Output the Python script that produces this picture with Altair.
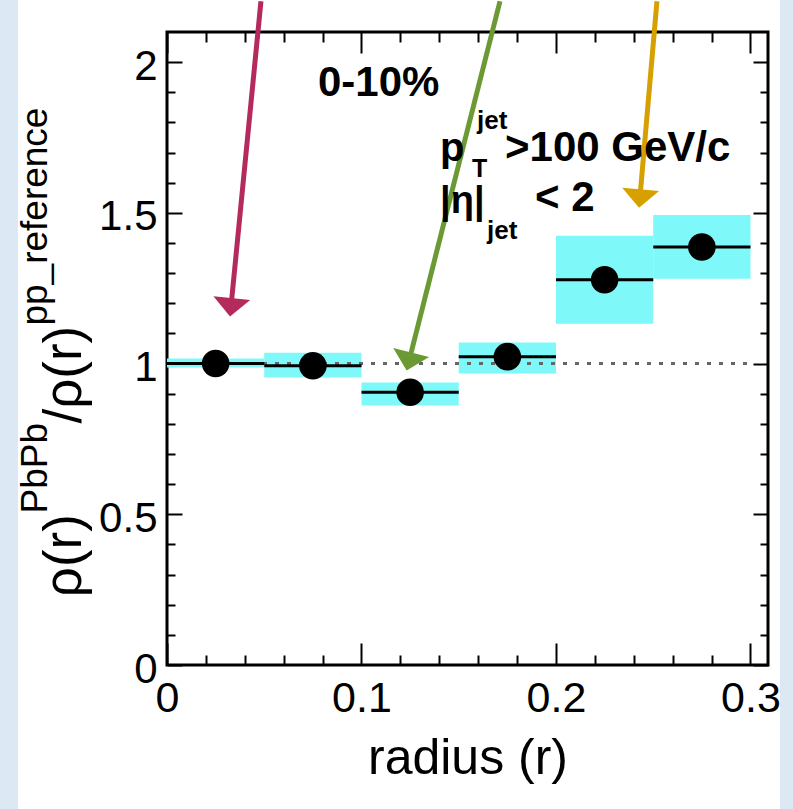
import math
import altair as alt
import pandas as pd

# Jet shape ratio PbPb / pp reference, 0-10% centrality, six radial bins
bin_lo = [0.00, 0.05, 0.10, 0.15, 0.20, 0.25]
bin_hi = [0.05, 0.10, 0.15, 0.20, 0.25, 0.30]
ratio = [1.000, 0.993, 0.905, 1.023, 1.278, 1.387]
sys_lo = [0.987, 0.954, 0.861, 0.967, 1.132, 1.281]
sys_hi = [1.017, 1.036, 0.937, 1.070, 1.424, 1.493]

# axis ticks
x_major = [0.0, 0.1, 0.2, 0.3]
x_minor = [0.02, 0.04, 0.06, 0.08, 0.12, 0.14, 0.16, 0.18, 0.22, 0.24, 0.26, 0.28]
y_major = [0.0, 0.5, 1.0, 1.5, 2.0]
y_minor = [0.1, 0.2, 0.3, 0.4, 0.6, 0.7, 0.8, 0.9, 1.1, 1.2, 1.3, 1.4, 1.6, 1.7, 1.8, 1.9]

# highlight arrows (start above the frame, tip in data units)
arrow_color = ["#b52a5d", "#6b9a34", "#d6a100"]
arrow_x0 = [0.0483, 0.1712, 0.2519]
arrow_y0 = [2.202, 2.202, 2.202]
arrow_x1 = [0.0324, 0.1232, 0.2427]
arrow_y1 = [1.156, 0.977, 1.517]

# in-plot labels
note_text = ["0-10%", "p", "T", "jet", ">100 GeV/c", "|η|", "jet", "< 2"]
note_x = [0.0776, 0.1404, 0.1568, 0.1594, 0.1738, 0.1404, 0.1645, 0.1892]
note_y = [1.887, 1.672, 1.620, 1.778, 1.672, 1.500, 1.414, 1.507]
note_size = [42, 40, 25, 26, 42, 38, 26, 42]

# y-axis title pieces, written bottom to top
ytitle_text = ["ρ(r)", "PbPb", "/ρ(r)", "pp_reference"]
ytitle_x = [-0.0442, -0.0617, -0.0442, -0.0617]
ytitle_y = [0.225, 0.503, 0.801, 1.126]
ytitle_size = [53, 37, 53, 37]

X_MAX = 0.309
Y_MAX = 2.1
W, H = 601, 633
PX_X = W / X_MAX
PX_Y = H / Y_MAX
FONT = "Liberation Sans"
CYAN = "#7ef8f8"

xs = alt.Scale(domain=[0, X_MAX], nice=False, zero=False)
ys = alt.Scale(domain=[0, Y_MAX], nice=False, zero=False)

bins = pd.DataFrame({"lo": bin_lo, "hi": bin_hi, "val": ratio,
                     "slo": sys_lo, "shi": sys_hi,
                     "mid": [(a + b) / 2 for a, b in zip(bin_lo, bin_hi)]})

# arrow geometry: shaft stops at the head base, head rotated along the shaft
head_len = 16
rows = []
for c, x0, y0, x1, y1 in zip(arrow_color, arrow_x0, arrow_y0, arrow_x1, arrow_y1):
    dx = (x1 - x0) * PX_X
    dy = (y0 - y1) * PX_Y
    L = math.hypot(dx, dy)
    ang = math.degrees(math.atan2(-dx, dy)) % 360
    xe = x1 - (dx / L) * head_len / PX_X
    ye = y1 + (dy / L) * head_len / PX_Y
    rows.append({"c": c, "x0": x0, "y0": y0, "xe": xe, "ye": ye,
                 "x1": x1, "y1": y1, "ang": ang})
arrows = pd.DataFrame(rows)

notes = pd.DataFrame({"t": note_text, "x": note_x, "y": note_y, "s": note_size})
ytitle = pd.DataFrame({"t": ytitle_text, "x": ytitle_x, "y": ytitle_y, "s": ytitle_size})
unity = pd.DataFrame({"a": [0.0], "b": [0.3], "y": [1.0]})


def tick_axis(orient, values, size, offset):
    return alt.Axis(orient=orient, values=values, tickSize=size, offset=offset,
                    labels=False, title=None, domain=False, grid=False,
                    ticks=True, tickColor="black", tickWidth=2)


x_label_axis = alt.Axis(orient="bottom", values=x_major, ticks=False, tickSize=0,
                        domain=False, grid=False, format=".1~f",
                        labelFont=FONT, labelFontSize=43, labelColor="black",
                        labelPadding=12, labelFlush=False, labelOverlap=False,
                        title="radius (r)", titleFont=FONT, titleFontSize=50,
                        titleFontWeight="normal", titleColor="black",
                        titleBaseline="alphabetic", titleAlign="center",
                        titleAnchor="middle", titleX=W / 2, titleY=108)
y_label_axis = alt.Axis(orient="left", values=y_major, ticks=False, tickSize=0,
                        domain=False, grid=False, format=".1~f",
                        labelFont=FONT, labelFontSize=42, labelColor="black",
                        labelPadding=10, labelFlush=False, labelOverlap=False,
                        labelBaseline="middle", labelOffset=4, title=None)

# systematic boxes
boxes = alt.Chart(bins).mark_rect(color=CYAN).encode(
    x=alt.X("lo:Q", scale=xs, axis=x_label_axis),
    x2="hi:Q",
    y=alt.Y("slo:Q", scale=ys, axis=y_label_axis),
    y2="shi:Q",
)

# reference line at unity
unity_line = alt.Chart(unity).mark_rule(color="#666666", strokeWidth=3,
                                        strokeDash=[4, 8]).encode(
    x=alt.X("a:Q", scale=xs, axis=tick_axis("top", x_major, 22, -H)),
    x2="b:Q",
    y=alt.Y("y:Q", scale=ys, axis=tick_axis("right", y_major, 15, -W)),
)

# bin-width bars
bars = alt.Chart(bins).mark_rule(color="black", strokeWidth=3).encode(
    x=alt.X("lo:Q", scale=xs, axis=tick_axis("top", x_minor, 10, -H)),
    x2="hi:Q",
    y=alt.Y("val:Q", scale=ys, axis=tick_axis("right", y_minor, 8, -W)),
)

points = alt.Chart(bins).mark_point(shape="circle", filled=True, opacity=1,
                                    color="black", size=760).encode(
    x=alt.X("mid:Q", scale=xs, axis=tick_axis("bottom", x_major, 21, -H)),
    y=alt.Y("val:Q", scale=ys, axis=tick_axis("left", y_major, 15, -W)),
)

shafts = alt.Chart(arrows).mark_rule(strokeWidth=5).encode(
    x=alt.X("x0:Q", scale=xs, axis=tick_axis("bottom", x_minor, 10, -H)),
    y=alt.Y("y0:Q", scale=ys, axis=tick_axis("left", y_minor, 8, -W)),
    x2="xe:Q",
    y2="ye:Q",
    color=alt.Color("c:N", scale=None),
)

heads = alt.Chart(arrows).mark_point(shape="M-1,-1L1,-1L0,0Z", filled=True,
                                     opacity=1, size=1369).encode(
    x=alt.X("x1:Q", scale=xs, axis=None),
    y=alt.Y("y1:Q", scale=ys, axis=None),
    angle=alt.Angle("ang:Q", scale=None),
    color=alt.Color("c:N", scale=None),
)

note_marks = alt.Chart(notes).mark_text(font=FONT, fontWeight="bold", color="black",
                                        align="left", baseline="alphabetic").encode(
    x=alt.X("x:Q", scale=xs, axis=None),
    y=alt.Y("y:Q", scale=ys, axis=None),
    text="t:N",
    size=alt.Size("s:Q", scale=None),
)

ytitle_marks = alt.Chart(ytitle).mark_text(font=FONT, color="black", angle=270,
                                           align="left", baseline="alphabetic").encode(
    x=alt.X("x:Q", scale=xs, axis=None),
    y=alt.Y("y:Q", scale=ys, axis=None),
    text="t:N",
    size=alt.Size("s:Q", scale=None),
)

# pale slide margins at the left and right edges
edge_strips = pd.DataFrame({"x": [-167, 613], "x2": [-149, 626]})
strips = alt.Chart(edge_strips).mark_rect(color="#dde8f5").encode(
    x=alt.X("x:Q", scale=None, axis=None),
    x2="x2:Q",
    y=alt.value(-32),
    y2=alt.value(H + 144),
)

chart = alt.layer(
    strips, boxes, unity_line, bars, points, shafts, heads, note_marks, ytitle_marks
).resolve_axis(
    x="independent", y="independent"
).properties(
    width=W, height=H,
    padding={"left": 167, "top": 32, "right": 25, "bottom": 144},
    autosize="none", background="white",
).configure_view(stroke="black", strokeWidth=3)

chart.save("out.html", embed_options={"renderer": "svg", "actions": False})
